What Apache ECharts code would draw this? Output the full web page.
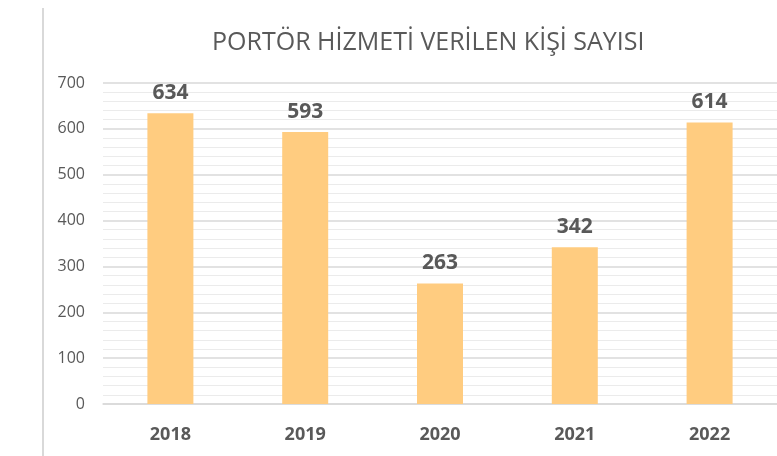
<!DOCTYPE html>
<html>
<head>
<meta charset="utf-8">
<script src="https://cdn.jsdelivr.net/npm/echarts@6/dist/echarts.min.js"></script>
<style>
  html, body { margin: 0; padding: 0; background: #fff; }
  #chart { width: 777px; height: 456px; }
</style>
</head>
<body>
<div id="chart"></div>
<script>
// yıllar ve kişi sayıları
const years = ['2018', '2019', '2020', '2021', '2022'];
const people = [634, 593, 263, 342, 614];
const titleText = 'PORTÖR HİZMETİ VERİLEN KİŞİ SAYISI';

const chart = echarts.init(document.getElementById('chart'));

const option = {
  animation: false,
  title: {
    text: titleText,
    left: 207,
    top: 25,
    textStyle: {
      fontFamily: 'Open Sans',
      fontWeight: 'normal',
      fontSize: 25,
      color: '#595959'
    }
  },
  graphic: [
    {
      type: 'line',
      shape: { x1: 43, y1: 8, x2: 43, y2: 456 },
      style: { stroke: '#d9d9d9', lineWidth: 2 }
    }
  ],
  grid: {
    left: 103,
    right: -3,
    top: 83,
    bottom: 52,
    containLabel: false
  },
  xAxis: {
    type: 'category',
    data: years,
    axisTick: { show: false },
    axisLine: { lineStyle: { color: '#d9d9d9', width: 1.5 } },
    axisLabel: {
      margin: 22,
      fontFamily: 'Open Sans',
      fontWeight: 'bold',
      fontSize: 18,
      color: '#595959'
    }
  },
  yAxis: {
    type: 'value',
    min: 0,
    max: 700,
    interval: 100,
    axisLine: { show: false },
    axisTick: { show: false },
    axisLabel: {
      margin: 18,
      fontFamily: 'Open Sans',
      fontSize: 16,
      color: '#595959'
    },
    splitLine: { lineStyle: { color: '#d9d9d9', width: 1.5 } },
    minorTick: { show: false, splitNumber: 5 },
    minorSplitLine: { show: true, lineStyle: { color: '#ebebeb', width: 1 } }
  },
  series: [
    {
      type: 'bar',
      data: people,
      barWidth: 46,
      itemStyle: { color: '#ffcc80' },
      label: {
        show: true,
        position: 'top',
        distance: 10,
        fontFamily: 'Open Sans',
        fontWeight: 'bold',
        fontSize: 21,
        color: '#595959'
      }
    }
  ]
};

chart.setOption(option);
</script>
</body>
</html>
